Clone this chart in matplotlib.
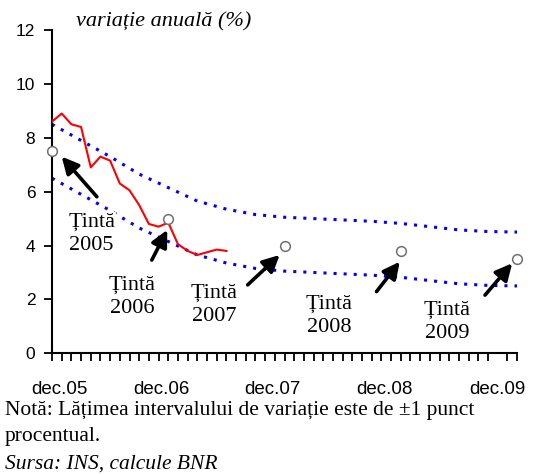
import matplotlib
matplotlib.use("Agg")
import matplotlib.pyplot as plt
import numpy as np

# ---- data ----
# months since dec.05 (0 = dec.05, 48 = dec.09)
infl_months = list(range(0, 19))
infl_values = [8.6, 8.9, 8.5, 8.4, 6.9, 7.3, 7.15, 6.3, 6.05, 5.5, 4.8, 4.7, 4.85,
               4.05, 3.8, 3.65, 3.75, 3.85, 3.8]

band_months = [0, 3, 6, 9, 12, 15, 18, 21, 24, 27, 30, 33, 36, 39, 42, 45, 48]
band_center = [7.5, 6.9, 6.3, 5.65, 5.15, 4.65, 4.35, 4.15, 4.05, 4.0, 3.95, 3.9,
               3.82, 3.7, 3.58, 3.52, 3.5]
band_halfwidth = 1.0

target_months = [0, 12, 24, 36, 48]
target_values = [7.5, 5.0, 4.0, 3.8, 3.5]
target_labels = ["Țintă\n2005", "Țintă\n2006", "Țintă\n2007", "Țintă\n2008", "Țintă\n2009"]

xtick_labels = ["dec.05", "dec.06", "dec.07", "dec.08", "dec.09"]
yticks = [0, 2, 4, 6, 8, 10, 12]

# annotation placement (data coordinates)
label_pos = [(4.1, 4.43), (8.3, 2.09), (16.7, 1.79), (28.6, 1.38), (40.8, 1.16)]
arrow_tail = [(4.63, 5.81), (10.3, 3.46), (20.2, 2.54), (33.5, 2.29), (44.7, 2.16)]
arrow_head = [(1.0, 7.3), (11.9, 4.58), (23.5, 3.65), (35.9, 3.40), (47.5, 3.34)]
xlabel_pos = [0.8, 11.3, 22.8, 34.3, 46.0]

serif = ["Liberation Serif", "DejaVu Serif"]
sans = ["Liberation Sans", "DejaVu Sans"]

fig = plt.figure(figsize=(5.46, 4.75), dpi=100)
ax = fig.add_axes([52 / 546, 1 - 353.3 / 475, (517 - 52) / 546, (353.3 - 30) / 475])

bc = np.array(band_center)
ax.plot(band_months, bc + band_halfwidth, color="#0000ff", lw=2.2,
        linestyle=(0, (1, 2.3)), zorder=2)
ax.plot(band_months, bc - band_halfwidth, color="#0000ff", lw=2.2,
        linestyle=(0, (1, 2.3)), zorder=2)

ax.plot(infl_months, infl_values, color="#ff0000", lw=1.5, zorder=3)

for (lx, ly), lab in zip(label_pos, target_labels):
    ax.text(lx, ly, lab, ha="center", va="center", family=serif, fontsize=16,
            linespacing=1.3, zorder=4,
            bbox=dict(facecolor="white", edgecolor="none", pad=0.5))

for t, h in zip(arrow_tail, arrow_head):
    ax.annotate("", xy=h, xytext=t,
                arrowprops=dict(arrowstyle="-|>,head_length=1.0,head_width=0.5",
                                color="black", lw=2.6, shrinkA=0, shrinkB=0),
                zorder=5)

ax.plot(target_months, target_values, linestyle="none", marker="o", ms=7,
        mfc="white", mec="#707070", mew=1.1, clip_on=False, zorder=6)

ax.set_xlim(0, 48)
ax.set_ylim(0, 12)
ax.set_yticks(yticks)
ax.set_yticklabels([str(v) for v in yticks], family=sans, fontsize=12.5)
ax.set_xticks(xlabel_pos)
ax.set_xticklabels(xtick_labels, family=sans, fontsize=13.5)
ax.tick_params(axis="x", length=0, pad=20)
ax.set_xticks(range(0, 49), minor=True)
ax.tick_params(axis="x", which="minor", length=6, width=1.3, direction="out")
ax.tick_params(axis="y", length=6, width=1.3, direction="out", pad=6)

for s in ["top", "right"]:
    ax.spines[s].set_visible(False)
for s in ["left", "bottom"]:
    ax.spines[s].set_linewidth(1.5)

fig.text(76 / 546, 1 - 22 / 475, "variație anuală (%)", family=serif, style="italic",
         fontsize=16, ha="left", va="center")

fig.text(5 / 546, 1 - 410 / 475, "Notă: Lățimea intervalului de variație este de ±1 punct",
         family=serif, fontsize=15.5, ha="left", va="center")
fig.text(5 / 546, 1 - 437 / 475, "procentual.", family=serif, fontsize=15.5,
         ha="left", va="center")
fig.text(5 / 546, 1 - 464 / 475, "Sursa: INS, calcule BNR", family=serif, style="italic",
         fontsize=15.5, ha="left", va="center")

fig.savefig("out.png", dpi=100, facecolor="white")
